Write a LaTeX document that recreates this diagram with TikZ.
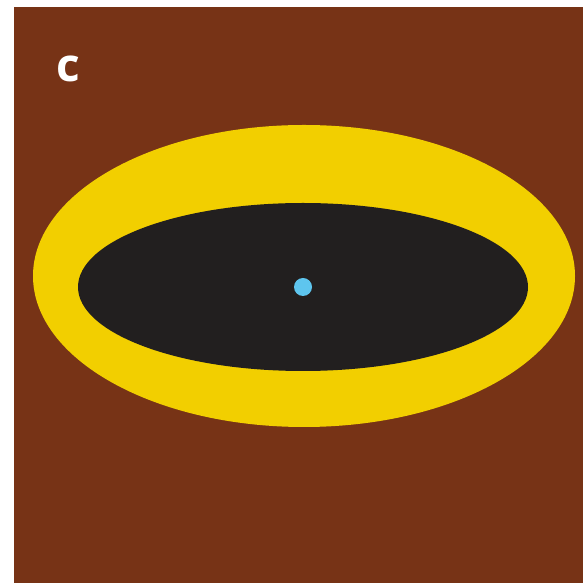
\documentclass[tikz,border=0pt]{standalone}
\usepackage{fontspec}
\newfontfamily\labelfont{Open Sans}
\definecolor{bgbrown}{HTML}{773316}
\definecolor{ringyellow}{HTML}{F2CF00}
\definecolor{coreblack}{HTML}{221F1F}
\definecolor{dotblue}{HTML}{5EC5EE}
\tikzset{
  panel/.style={fill=bgbrown, draw=none},
  outerell/.style={fill=ringyellow, draw=none},
  innerell/.style={fill=coreblack, draw=none},
  dotstyle/.style={fill=dotblue, draw=none},
  paneltext/.style={text=white, font=\labelfont\bfseries\fontsize{46}{46}\selectfont, inner sep=0pt}
}
\begin{document}
\begin{tikzpicture}[x=1pt,y=1pt]
\useasboundingbox (0,0) rectangle (583,583);
\fill[white] (0,0) rectangle (583,583);
\path[panel] (13.5,0) rectangle (583,575.5);
\path[outerell] (304,307) ellipse [x radius=271, y radius=151];
\path[innerell] (303,296) ellipse [x radius=225, y radius=84];
\path[dotstyle] (303,296) circle [radius=9];
\node[paneltext, anchor=base] (lbl) at (68,501) {c};
\end{tikzpicture}
\end{document}
